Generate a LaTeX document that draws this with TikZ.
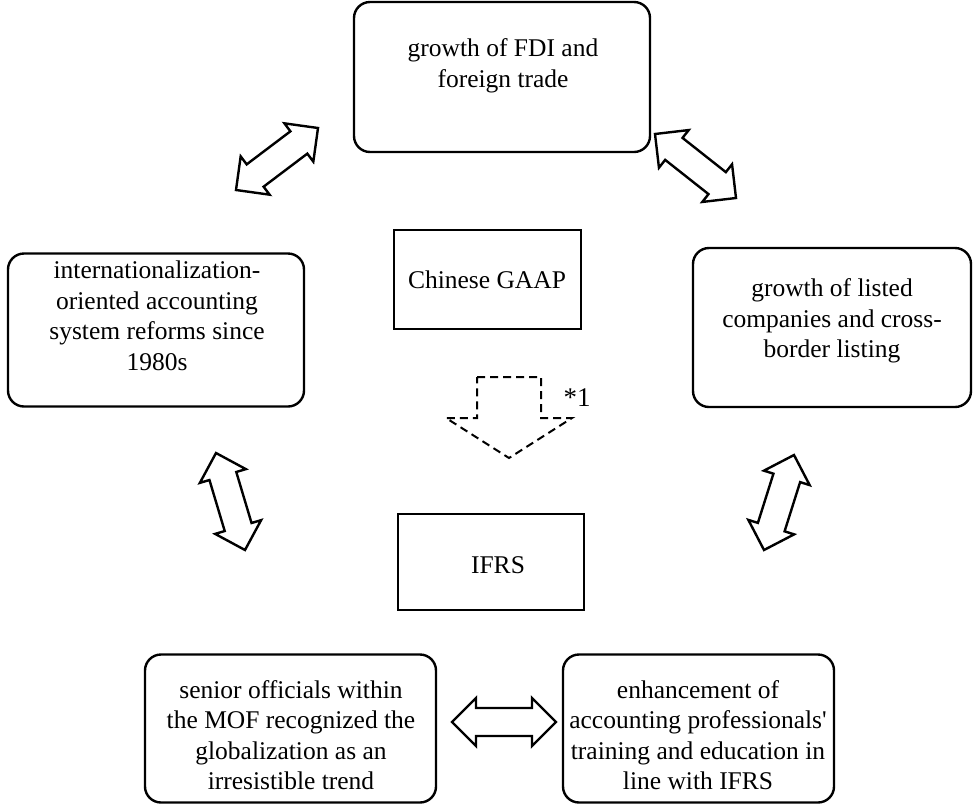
\documentclass[tikz,border=0pt]{standalone}
\usepackage{fontspec}
\setmainfont{Liberation Serif}
\usetikzlibrary{calc}
\newcommand{\blockarrow}[2]{%
  \coordinate (#1#2a) at ($(#1)!24pt!(#2)$);
  \coordinate (#1#2b) at ($(#2)!24pt!(#1)$);
  \draw[blockarr] (#1) -- ($(#1#2a)!24pt!90:(#2)$) -- ($(#1#2a)!14pt!90:(#2)$)
    -- ($(#1#2b)!14pt!-90:(#1)$) -- ($(#1#2b)!24pt!-90:(#1)$) -- (#2)
    -- ($(#1#2b)!24pt!90:(#1)$) -- ($(#1#2b)!14pt!90:(#1)$)
    -- ($(#1#2a)!14pt!-90:(#2)$) -- ($(#1#2a)!24pt!-90:(#2)$) -- cycle;
}
\begin{document}
\begin{tikzpicture}[x=1pt,y=-1pt,
  rbox/.style={draw, line width=2.4pt, rounded corners=16pt, inner sep=0pt},
  sbox/.style={draw, line width=1.1pt, inner sep=0pt},
  txt/.style={align=center, inner sep=0pt, font=\fontsize{25.5}{30.5}\selectfont},
  blockarr/.style={line width=2.4pt, fill=white, line join=miter},
  dasharr/.style={line width=2pt, dash pattern=on 8pt off 5pt, line join=miter}]
\useasboundingbox (0,0) rectangle (979,804);

\node[rbox, minimum width=296, minimum height=150] (top) at (502,77) {};
\node[txt] (toptext) at (503,66) {growth of FDI and\\foreign trade};

\node[rbox, minimum width=296, minimum height=153] (left) at (156,330) {};
\node[txt] (lefttext) at (157,316)
  {internationalization-\\oriented accounting\\system reforms since\\1980s};

\node[rbox, minimum width=278, minimum height=159] (right) at (832,327.5) {};
\node[txt] (righttext) at (832,321)
  {growth of listed\\companies and cross-\\border listing};

\node[sbox, minimum width=187, minimum height=99] (gaap) at (487.5,279.5) {};
\node[txt] (gaaptext) at (487,280) {Chinese GAAP};

\node[sbox, minimum width=186, minimum height=96] (ifrs) at (491,562) {};
\node[txt] (ifrstext) at (498,565) {IFRS};

\node[rbox, minimum width=291, minimum height=148] (bl) at (290.5,728.5) {};
\node[txt] (bltext) at (291,735)
  {senior officials within\\the MOF recognized the\\globalization as an\\irresistible trend};

\node[rbox, minimum width=271, minimum height=148] (br) at (698.5,728.5) {};
\node[txt] (brtext) at (698,735)
  {enhancement of\\accounting professionals\textquotesingle\\training and education in\\line with IFRS};

\coordinate (tlA) at (236,190);
\coordinate (tlB) at (318,128);
\coordinate (trA) at (655,134);
\coordinate (trB) at (736,198);
\coordinate (lA) at (216,453);
\coordinate (lB) at (245,550);
\coordinate (rA) at (794,455);
\coordinate (rB) at (764,550);
\coordinate (bA) at (452,722);
\coordinate (bB) at (556,722);

\blockarrow{tlA}{tlB}
\blockarrow{trA}{trB}
\blockarrow{lA}{lB}
\blockarrow{rA}{rB}
\blockarrow{bA}{bB}

\draw[dasharr] (477,377) -- (541,377) -- (541,418) -- (572,418) -- (509,458)
  -- (446,418) -- (477,418) -- cycle;
\node[txt, font=\fontsize{27}{31}\selectfont] (star) at (577,398) {*1};
\end{tikzpicture}
\end{document}
